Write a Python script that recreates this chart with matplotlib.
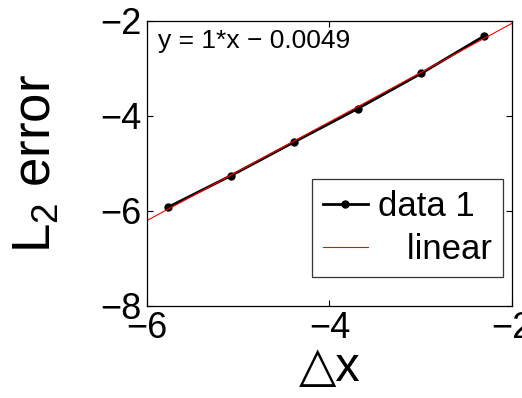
import numpy as np
import matplotlib
matplotlib.use('Agg')
import matplotlib.pyplot as plt

plt.rcParams['font.family'] = ['Liberation Sans', 'DejaVu Sans']
plt.rcParams['mathtext.fontset'] = 'custom'
plt.rcParams['mathtext.rm'] = 'Liberation Sans'

# log of grid spacing vs log of L2 error
dx = [-5.768, -5.075, -4.382, -3.689, -2.996, -2.303]
err = [-5.93, -5.26, -4.55, -3.85, -3.11, -2.32]

# linear fit of the data
coeff = np.polyfit(dx, err, 1)
fitX = np.array([-6.0, -2.0])
fitY = np.polyval(coeff, fitX)

fig = plt.figure(figsize=(5.22, 3.98), dpi=100)
ax = fig.add_axes([0.281, 0.232, 0.700, 0.716])

ax.plot(dx, err, color='black', lw=2, marker='.', ms=10, label='data 1')
ax.plot(fitX, fitY, color='red', lw=0.8, label='   linear')

ax.set_xlim(-6, -2)
ax.set_ylim(-8, -2)
ax.set_xticks([-6, -4, -2])
ax.set_yticks([-8, -6, -4, -2])
ax.tick_params(direction='in', length=4, width=0.8, labelsize=26,
               top=True, right=True, pad=4)
for s in ax.spines.values():
    s.set_linewidth(0.9)

ax.set_xlabel('\u25b3x', fontsize=35, labelpad=0)
ax.set_ylabel(r'L$_2$ error', fontsize=38)
ax.yaxis.set_label_coords(-0.235, 0.5)

ax.text(0.03, 0.93, 'y = 1*x \u2212 0.0049', transform=ax.transAxes,
        fontsize=19, va='center', ha='left')

leg = ax.legend(loc='lower right', bbox_to_anchor=(0.974, 0.102),
                fontsize=25, frameon=True, fancybox=False,
                handlelength=1.3, handletextpad=0.3, borderpad=0.3,
                labelspacing=0.3, borderaxespad=0)
leg.get_frame().set_edgecolor('black')
leg.get_frame().set_linewidth(0.9)

fig.savefig('out.png', dpi=100)
